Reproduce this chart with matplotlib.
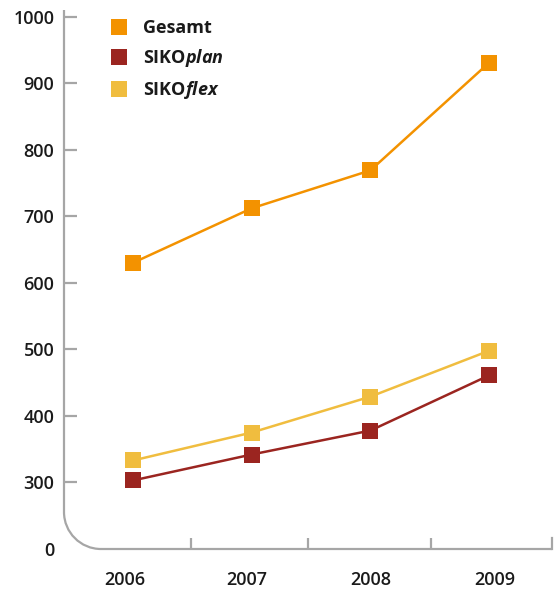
import matplotlib
matplotlib.use("Agg")
import matplotlib.pyplot as plt
from matplotlib.path import Path
from matplotlib.patches import PathPatch
from matplotlib.lines import Line2D

years = ["2006", "2007", "2008", "2009"]
gesamt = [630, 712, 769, 931]
siko_plan = [303, 342, 378, 461]
siko_flex = [333, 375, 429, 498]
y_ticks = [200, 300, 400, 500, 600, 700, 800, 900, 1000]
y_labels = ["0", "300", "400", "500", "600", "700", "800", "900", "1000"]

series_names = ["Gesamt", r"$\mathbf{SIKO}\mathit{plan}$", r"$\mathbf{SIKO}\mathit{flex}$"]
colors = ["#F39200", "#9B2520", "#F0BD3F"]
axis_col = "#A6A6A6"
txt_col = "#1A1A1A"

plt.rcParams["font.family"] = ["Open Sans", "DejaVu Sans"]
plt.rcParams["mathtext.fontset"] = "custom"
plt.rcParams["mathtext.bf"] = "Open Sans:bold"
plt.rcParams["mathtext.it"] = "Open Sans:italic:bold"
plt.rcParams["mathtext.rm"] = "Open Sans:bold"

W, H = 554, 591
fig = plt.figure(figsize=(W / 100, H / 100), dpi=100)
ax_l, ax_r, ax_t, ax_b = 64, 551.7, 10, 549
ax = fig.add_axes([ax_l / W, 1 - ax_b / H, (ax_r - ax_l) / W, (ax_b - ax_t) / H])

x = list(range(len(years)))
for vals, c in zip([gesamt, siko_plan, siko_flex], colors):
    ax.plot(x, vals, color=c, lw=1.8, marker="s", markersize=12.2,
            markeredgewidth=0, zorder=3, clip_on=False)

ax.set_xlim(-0.58, 3.526)
ax.set_ylim(200, 1010)

for s in ax.spines.values():
    s.set_visible(False)

# rounded axis corner
rx = 37 / (ax_r - ax_l)
ry = 37 / (ax_b - ax_t)
k = 0.5523
verts = [(0, 1), (0, ry), (0, ry * (1 - k)), (rx * (1 - k), 0), (rx, 0), (1, 0)]
codes = [Path.MOVETO, Path.LINETO, Path.CURVE4, Path.CURVE4, Path.CURVE4, Path.LINETO]
ax.add_patch(PathPatch(Path(verts, codes), transform=ax.transAxes, fill=False,
                       edgecolor=axis_col, lw=1.6, clip_on=False, capstyle="butt"))
# right end tick
ax.add_line(Line2D([1, 1], [0, 11 / (ax_b - ax_t)], transform=ax.transAxes,
                   color=axis_col, lw=1.6, clip_on=False))

ax.set_yticks(y_ticks)
ax.set_yticklabels(y_labels)
ax.tick_params(axis="y", direction="in", length=9, width=1.6, color=axis_col,
               pad=7, labelsize=13, labelcolor=txt_col)
ax.yaxis.get_major_ticks()[0].tick1line.set_visible(False)
for lab in ax.get_yticklabels():
    lab.set_fontweight("semibold")

# year labels (slightly offset from the markers, as in the original layout)
label_pos = [-0.07, 0.96, 2.0, 3.05]
ax.set_xticks(label_pos)
ax.set_xticklabels(years)
ax.set_xticks([0.49, 1.475, 2.508], minor=True)
ax.tick_params(axis="x", which="major", length=0, pad=15.5, labelsize=13, labelcolor=txt_col)
ax.tick_params(axis="x", which="minor", direction="in", length=8, width=1.6, color=axis_col)
for lab in ax.get_xticklabels():
    lab.set_fontweight("semibold")

handles = [Line2D([], [], color=c, marker="s", ls="none", markersize=12.2, markeredgewidth=0)
           for c in colors]
leg = ax.legend(handles, series_names, loc="upper left",
                bbox_to_anchor=(110 / W, 1 - 19 / H), bbox_transform=fig.transFigure,
                frameon=False, prop={"size": 13, "weight": "bold"},
                handlelength=1.0, handletextpad=0.85, labelspacing=0.55, borderpad=0,
                borderaxespad=0)
for t in leg.get_texts():
    t.set_color(txt_col)

fig.savefig("out.png", dpi=100)
